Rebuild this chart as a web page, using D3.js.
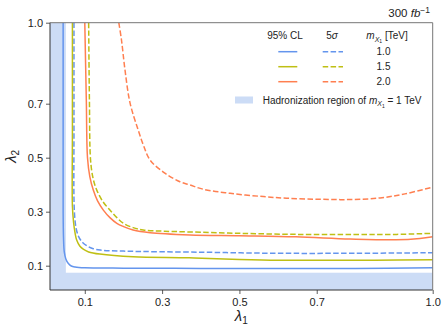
<!DOCTYPE html>
<html>
<head>
<meta charset="utf-8">
<script src="https://d3js.org/d3.v7.min.js"></script>
<style>
  body { margin: 0; background: #fff; }
  svg text { font-family: "Liberation Sans", Arial, sans-serif; fill: #222; }
  .curve { fill: none; stroke-width: 1.5px; }
  .axis path { display: none; }
  .axis line { stroke: #333; stroke-width: 0.8px; }
  .axis text { font-size: 11px; fill: #222; }
</style>
</head>
<body>
<script>
// ticks
var lambda1Ticks = [0.1, 0.3, 0.5, 0.7, 1.0];
var lambda2Ticks = [0.1, 0.3, 0.5, 0.7, 1.0];

// hadronization region of m_X1 = 1 TeV (lambda1 < a or lambda2 < b)
var hadLambda1Max = 0.051;
var hadLambda2Max = 0.074;

// masses
var massLabels = ["1.0", "1.5", "2.0"];
var massColors = ["#6495ed", "#bfbf14", "#ff7f50"];

// 95% CL, m = 1.0 TeV
var cl10L1 = [0.044, 0.044, 0.044, 0.045, 0.047, 0.051, 0.057, 0.065, 0.075, 0.10, 0.20, 0.40, 0.60, 0.80, 1.00];
var cl10L2 = [1.00, 0.60, 0.30, 0.20, 0.150, 0.125, 0.109, 0.099, 0.095, 0.092, 0.091, 0.090, 0.090, 0.090, 0.092];
// 5 sigma, m = 1.0 TeV
var s10L1 = [0.072, 0.072, 0.072, 0.074, 0.078, 0.085, 0.095, 0.105, 0.120, 0.140, 0.20, 0.40, 0.60, 0.80, 1.00];
var s10L2 = [1.00, 0.60, 0.35, 0.28, 0.235, 0.205, 0.185, 0.174, 0.164, 0.158, 0.154, 0.150, 0.146, 0.146, 0.148];

// 95% CL, m = 1.5 TeV
var cl15L1 = [0.068, 0.068, 0.068, 0.071, 0.075, 0.079, 0.087, 0.096, 0.110, 0.139, 0.225, 0.37, 0.50, 0.60, 0.70, 0.85, 1.00];
var cl15L2 = [1.00, 0.60, 0.32, 0.26, 0.22, 0.195, 0.173, 0.161, 0.151, 0.143, 0.133, 0.129, 0.123, 0.120, 0.120, 0.120, 0.122];
// 5 sigma, m = 1.5 TeV
var s15L1 = [0.110, 0.112, 0.115, 0.122, 0.131, 0.147, 0.165, 0.183, 0.200, 0.225, 0.251, 0.30, 0.372, 0.50, 0.648, 0.80, 0.907, 1.00];
var s15L2 = [1.00, 0.71, 0.49, 0.42, 0.380, 0.337, 0.306, 0.278, 0.257, 0.241, 0.232, 0.228, 0.225, 0.220, 0.216, 0.216, 0.216, 0.220];

// 95% CL, m = 2.0 TeV
var cl20L1 = [0.100, 0.104, 0.107, 0.113, 0.122, 0.133, 0.148, 0.165, 0.183, 0.200, 0.225, 0.269, 0.372, 0.50, 0.646, 0.786, 0.905, 0.967, 1.00];
var cl20L2 = [1.00, 0.71, 0.50, 0.43, 0.380, 0.340, 0.306, 0.278, 0.257, 0.245, 0.232, 0.222, 0.214, 0.211, 0.207, 0.199, 0.196, 0.201, 0.207];
// 5 sigma, m = 2.0 TeV
var s20L1 = [0.188, 0.195, 0.204, 0.217, 0.238, 0.252, 0.269, 0.307, 0.346, 0.372, 0.407, 0.476, 0.562, 0.622, 0.708, 0.786, 0.864, 0.928, 1.00];
var s20L2 = [1.00, 0.935, 0.825, 0.703, 0.603, 0.545, 0.491, 0.443, 0.411, 0.399, 0.383, 0.368, 0.356, 0.350, 0.346, 0.345, 0.351, 0.366, 0.391];

var series = [
  {l1: cl10L1, l2: cl10L2, m: 0, dashed: false},
  {l1: s10L1,  l2: s10L2,  m: 0, dashed: true},
  {l1: cl15L1, l2: cl15L2, m: 1, dashed: false},
  {l1: s15L1,  l2: s15L2,  m: 1, dashed: true},
  {l1: cl20L1, l2: cl20L2, m: 2, dashed: false},
  {l1: s20L1,  l2: s20L2,  m: 2, dashed: true}
];

var W = 442, H = 325;
var pLeft = 50, pRight = 432.7, pTop = 22.7, pBottom = 290;
var dash = "5.5,2.4";

var x = d3.scaleLinear().domain([0.01, 1.0]).range([pLeft, pRight]);
var y = d3.scaleLinear().domain([0.01, 1.0]).range([pBottom, pTop]);

var svg = d3.select("body").append("svg")
    .attr("width", W).attr("height", H);

svg.append("clipPath").attr("id", "plot")
  .append("rect")
    .attr("x", pLeft).attr("y", pTop)
    .attr("width", pRight - pLeft).attr("height", pBottom - pTop);

var plot = svg.append("g").attr("clip-path", "url(#plot)");

// hadronization region
var hadFill = "#ccdcf6";
plot.append("rect")
    .attr("x", x(0.01)).attr("y", y(1.0))
    .attr("width", x(hadLambda1Max) - x(0.01))
    .attr("height", y(0.01) - y(1.0))
    .attr("fill", hadFill);
plot.append("rect")
    .attr("x", x(0.01)).attr("y", y(hadLambda2Max))
    .attr("width", x(1.0) - x(0.01))
    .attr("height", y(0.01) - y(hadLambda2Max))
    .attr("fill", hadFill);

var valueline = d3.line()
    .x(function(d) { return x(d[0]); })
    .y(function(d) { return y(d[1]); })
    .curve(d3.curveCatmullRom.alpha(0.5));

series.forEach(function(s) {
  var pts = s.l1.map(function(v, i) { return [v, s.l2[i]]; });
  plot.append("path")
      .attr("class", "curve")
      .attr("d", valueline(pts))
      .attr("stroke", massColors[s.m])
      .attr("stroke-dasharray", s.dashed ? dash : null);
});

// axes
svg.append("g")
    .attr("class", "axis")
    .attr("transform", "translate(0," + pBottom + ")")
    .call(d3.axisBottom(x).tickValues(lambda1Ticks).tickFormat(d3.format(".1f"))
      .tickSize(4).tickPadding(4.5).tickSizeOuter(0));
svg.append("g")
    .attr("class", "axis")
    .attr("transform", "translate(" + pLeft + ",0)")
    .call(d3.axisLeft(y).tickValues(lambda2Ticks).tickFormat(d3.format(".1f"))
      .tickSize(4).tickPadding(3).tickSizeOuter(0));

// spines
svg.append("line").attr("x1", pLeft).attr("x2", pLeft).attr("y1", pTop).attr("y2", pBottom)
    .attr("stroke", "#333").attr("stroke-width", 1);
svg.append("line").attr("x1", pLeft).attr("x2", pRight).attr("y1", pBottom).attr("y2", pBottom)
    .attr("stroke", "#333").attr("stroke-width", 1);
svg.append("line").attr("x1", pLeft).attr("x2", pRight).attr("y1", pTop).attr("y2", pTop)
    .attr("stroke", "#777").attr("stroke-width", 1);
svg.append("line").attr("x1", pRight).attr("x2", pRight).attr("y1", pTop).attr("y2", pBottom)
    .attr("stroke", "#777").attr("stroke-width", 1);

// axis labels
var xl = svg.append("text").attr("x", (pLeft + pRight) / 2).attr("y", 321)
    .attr("text-anchor", "middle").style("font-size", "15px");
xl.append("tspan").style("font-style", "italic").text("λ");
xl.append("tspan").attr("dy", 3).style("font-size", "10px").text("1");

var yl = svg.append("text")
    .attr("transform", "translate(16," + ((pTop + pBottom) / 2) + ") rotate(-90)")
    .attr("text-anchor", "middle").style("font-size", "15px");
yl.append("tspan").style("font-style", "italic").text("λ");
yl.append("tspan").attr("dy", 3).style("font-size", "10px").text("2");

// luminosity
var lum = svg.append("text").attr("x", 430).attr("y", 17)
    .attr("text-anchor", "end").style("font-size", "11.5px");
lum.append("tspan").text("300 ");
lum.append("tspan").style("font-style", "italic").text("fb");
lum.append("tspan").attr("dy", -4).style("font-size", "8.5px").text("−1");

// legend
var lg = svg.append("g").style("font-size", "10px");
function massTitle(t) {
  t.append("tspan").style("font-style", "italic").text("m");
  t.append("tspan").attr("dy", 2.5).style("font-size", "7px").style("font-style", "italic").text("X");
  t.append("tspan").attr("dy", 1.5).style("font-size", "5px").text("1");
  t.append("tspan").attr("dy", -4).text(" [TeV]");
}
lg.append("text").attr("x", 285).attr("y", 39).attr("text-anchor", "middle").text("95% CL");
var sg = lg.append("text").attr("x", 332).attr("y", 39).attr("text-anchor", "middle");
sg.append("tspan").text("5");
sg.append("tspan").style("font-style", "italic").text("σ");
massTitle(lg.append("text").attr("x", 387).attr("y", 39).attr("text-anchor", "middle"));

massLabels.forEach(function(lab, i) {
  var yy = 51.7 + i * 15;
  lg.append("line").attr("x1", 278.3).attr("x2", 297.3).attr("y1", yy).attr("y2", yy)
      .attr("stroke", massColors[i]).attr("stroke-width", 1.5);
  lg.append("line").attr("x1", 322.7).attr("x2", 343).attr("y1", yy).attr("y2", yy)
      .attr("stroke", massColors[i]).attr("stroke-width", 1.5).attr("stroke-dasharray", dash);
  lg.append("text").attr("x", 383.5).attr("y", yy + 3.6).attr("text-anchor", "middle").text(lab);
});

lg.append("rect").attr("x", 235).attr("y", 96.5).attr("width", 18).attr("height", 7)
    .attr("fill", hadFill);
var ht = lg.append("text").attr("x", 262.7).attr("y", 103.6);
ht.append("tspan").text("Hadronization region of ");
ht.append("tspan").style("font-style", "italic").text("m");
ht.append("tspan").attr("dy", 2.5).style("font-size", "7px").style("font-style", "italic").text("X");
ht.append("tspan").attr("dy", 1.5).style("font-size", "5px").text("1");
ht.append("tspan").attr("dy", -4).text(" = 1 TeV");
</script>
</body>
</html>
